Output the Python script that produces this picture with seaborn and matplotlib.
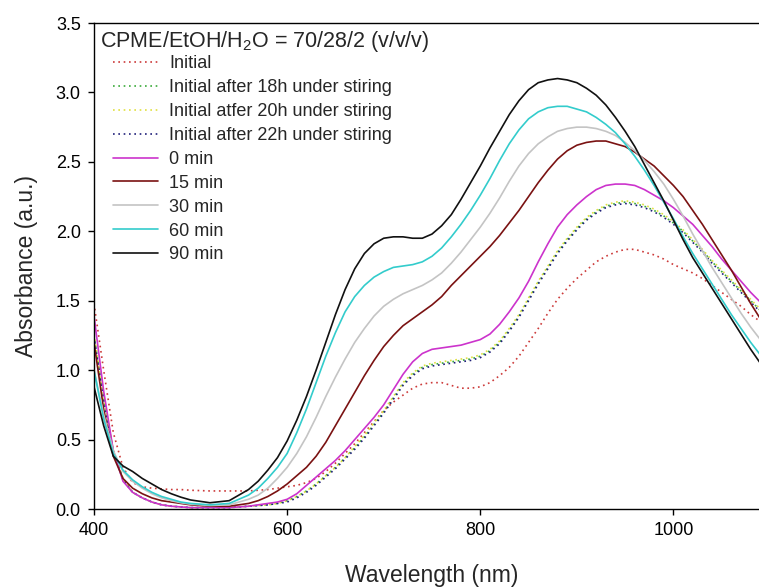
import matplotlib
matplotlib.use('Agg')
import numpy as np
import seaborn as sns
from matplotlib import pyplot as plt

# wavelength grid (nm)
wavelength = [400, 410, 420, 430, 440, 450, 460, 470, 480, 490, 500, 520, 540,
              560, 570, 580, 590, 600, 610, 620, 630, 640, 650, 660, 670, 680, 690,
              700, 710, 720, 730, 740, 750, 760, 770, 780, 790, 800, 810, 820, 830,
              840, 850, 860, 870, 880, 890, 900, 910, 920, 930, 940, 950, 960, 970,
              980, 990, 1000, 1010, 1020, 1030, 1040, 1050, 1060, 1070, 1080, 1090, 1100]

initial = [1.48, 1.00, 0.55, 0.30, 0.19, 0.16, 0.15, 0.145, 0.14, 0.14, 0.135, 0.13, 0.13,
           0.13, 0.135, 0.14, 0.15, 0.16, 0.17, 0.19, 0.22, 0.27, 0.33, 0.40, 0.47, 0.55, 0.63,
           0.71, 0.77, 0.82, 0.87, 0.90, 0.91, 0.91, 0.89, 0.87, 0.87, 0.88, 0.91, 0.96, 1.02,
           1.10, 1.20, 1.30, 1.41, 1.51, 1.59, 1.66, 1.72, 1.78, 1.82, 1.85, 1.87, 1.87, 1.85,
           1.83, 1.80, 1.76, 1.73, 1.70, 1.66, 1.61, 1.56, 1.51, 1.46, 1.40, 1.35, 1.30]
stir_18h = [1.25, 0.80, 0.42, 0.22, 0.12, 0.08, 0.05, 0.03, 0.02, 0.015, 0.01, 0.01, 0.01,
            0.02, 0.025, 0.03, 0.04, 0.06, 0.09, 0.13, 0.18, 0.24, 0.30, 0.37, 0.44, 0.52, 0.61,
            0.70, 0.80, 0.90, 0.97, 1.02, 1.04, 1.05, 1.06, 1.07, 1.08, 1.10, 1.14, 1.20, 1.29,
            1.39, 1.51, 1.63, 1.74, 1.85, 1.94, 2.02, 2.09, 2.14, 2.18, 2.20, 2.21, 2.20, 2.18,
            2.15, 2.11, 2.06, 2.00, 1.93, 1.86, 1.78, 1.71, 1.64, 1.57, 1.50, 1.43, 1.37]
stir_20h = [1.26, 0.81, 0.42, 0.22, 0.12, 0.08, 0.05, 0.03, 0.02, 0.015, 0.01, 0.01, 0.01,
            0.02, 0.025, 0.03, 0.04, 0.06, 0.09, 0.13, 0.18, 0.24, 0.30, 0.37, 0.45, 0.53, 0.62,
            0.71, 0.81, 0.91, 0.98, 1.03, 1.05, 1.06, 1.07, 1.08, 1.09, 1.11, 1.15, 1.21, 1.30,
            1.40, 1.52, 1.64, 1.75, 1.86, 1.95, 2.03, 2.10, 2.15, 2.19, 2.21, 2.22, 2.21, 2.19,
            2.16, 2.12, 2.07, 2.01, 1.94, 1.87, 1.79, 1.72, 1.65, 1.58, 1.51, 1.44, 1.38]
stir_22h = [1.24, 0.79, 0.41, 0.21, 0.12, 0.08, 0.05, 0.03, 0.02, 0.015, 0.01, 0.01, 0.01,
            0.02, 0.025, 0.03, 0.04, 0.05, 0.08, 0.12, 0.17, 0.23, 0.29, 0.36, 0.43, 0.51, 0.60,
            0.69, 0.79, 0.89, 0.96, 1.01, 1.03, 1.04, 1.05, 1.06, 1.07, 1.09, 1.13, 1.19, 1.28,
            1.38, 1.50, 1.62, 1.73, 1.84, 1.93, 2.01, 2.08, 2.13, 2.17, 2.19, 2.20, 2.19, 2.17,
            2.14, 2.10, 2.05, 1.99, 1.92, 1.85, 1.77, 1.70, 1.63, 1.56, 1.49, 1.42, 1.36]
min_0 = [1.39, 0.85, 0.42, 0.20, 0.12, 0.08, 0.05, 0.03, 0.02, 0.015, 0.01, 0.01, 0.01,
         0.02, 0.03, 0.04, 0.05, 0.07, 0.11, 0.17, 0.23, 0.29, 0.35, 0.42, 0.50, 0.58, 0.66,
         0.75, 0.86, 0.97, 1.06, 1.12, 1.15, 1.16, 1.17, 1.18, 1.20, 1.22, 1.26, 1.33, 1.42,
         1.52, 1.64, 1.78, 1.91, 2.03, 2.12, 2.19, 2.25, 2.30, 2.33, 2.34, 2.34, 2.33, 2.30,
         2.26, 2.22, 2.17, 2.11, 2.05, 1.97, 1.89, 1.80, 1.72, 1.64, 1.56, 1.49, 1.42]
min_15 = [1.20, 0.72, 0.38, 0.22, 0.15, 0.11, 0.08, 0.06, 0.05, 0.04, 0.03, 0.02, 0.02,
          0.04, 0.06, 0.09, 0.13, 0.18, 0.24, 0.30, 0.38, 0.48, 0.60, 0.72, 0.84, 0.96, 1.07,
          1.17, 1.25, 1.32, 1.37, 1.42, 1.47, 1.53, 1.61, 1.68, 1.75, 1.82, 1.89, 1.97, 2.06,
          2.15, 2.25, 2.35, 2.44, 2.52, 2.58, 2.62, 2.64, 2.65, 2.65, 2.63, 2.61, 2.57, 2.52,
          2.47, 2.40, 2.33, 2.25, 2.15, 2.05, 1.94, 1.83, 1.72, 1.60, 1.48, 1.37, 1.27]
min_30 = [1.00, 0.68, 0.42, 0.27, 0.20, 0.15, 0.11, 0.08, 0.06, 0.045, 0.035, 0.025, 0.03,
          0.07, 0.10, 0.15, 0.22, 0.30, 0.40, 0.52, 0.66, 0.81, 0.95, 1.08, 1.20, 1.30, 1.39,
          1.46, 1.51, 1.55, 1.58, 1.61, 1.65, 1.70, 1.77, 1.85, 1.94, 2.03, 2.13, 2.24, 2.36,
          2.47, 2.56, 2.63, 2.68, 2.72, 2.74, 2.75, 2.75, 2.74, 2.72, 2.69, 2.64, 2.58, 2.51,
          2.43, 2.34, 2.23, 2.11, 1.98, 1.86, 1.74, 1.63, 1.52, 1.41, 1.31, 1.22, 1.13]
min_60 = [1.00, 0.65, 0.40, 0.28, 0.21, 0.16, 0.12, 0.09, 0.07, 0.05, 0.04, 0.03, 0.04,
          0.10, 0.15, 0.22, 0.30, 0.40, 0.55, 0.72, 0.91, 1.10, 1.27, 1.42, 1.53, 1.61, 1.67,
          1.71, 1.74, 1.75, 1.76, 1.78, 1.82, 1.88, 1.96, 2.05, 2.15, 2.26, 2.38, 2.51, 2.63,
          2.73, 2.81, 2.86, 2.89, 2.90, 2.90, 2.88, 2.86, 2.82, 2.77, 2.71, 2.63, 2.54, 2.44,
          2.33, 2.21, 2.09, 1.96, 1.84, 1.73, 1.62, 1.51, 1.40, 1.30, 1.20, 1.11, 1.02]
min_90 = [0.88, 0.60, 0.38, 0.31, 0.27, 0.22, 0.18, 0.14, 0.11, 0.085, 0.065, 0.045, 0.06,
          0.14, 0.20, 0.28, 0.37, 0.49, 0.64, 0.81, 1.00, 1.20, 1.40, 1.58, 1.73, 1.84, 1.91,
          1.95, 1.96, 1.96, 1.95, 1.95, 1.98, 2.04, 2.12, 2.23, 2.35, 2.47, 2.60, 2.72, 2.84,
          2.94, 3.02, 3.07, 3.09, 3.10, 3.09, 3.07, 3.03, 2.98, 2.91, 2.82, 2.72, 2.61, 2.48,
          2.35, 2.22, 2.08, 1.94, 1.81, 1.70, 1.59, 1.48, 1.37, 1.26, 1.15, 1.05, 0.96]

labels = ['Initial', 'Initial after 18h under stiring', 'Initial atfer 20h under stiring',
          'Initial after 22h under stiring', '0 min', '15 min', '30 min', '60 min', '90 min']
series = [initial, stir_18h, stir_20h, stir_22h, min_0, min_15, min_30, min_60, min_90]
colors = ['#cc3a3a', '#3aaa3a', '#e0e040', '#20207a', '#cc33cc', '#7a1212', '#c4c4c4', '#33cccc', '#111111']
dotted = [True, True, True, True, False, False, False, False, False]

sns.set_style('ticks')
plt.rcParams['font.family'] = ['Liberation Sans', 'DejaVu Sans']
plt.rcParams['mathtext.fontset'] = 'custom'
plt.rcParams['mathtext.rm'] = 'Liberation Sans'
plt.rcParams['mathtext.it'] = 'Liberation Sans:italic'

fig = plt.figure(figsize=(7.59, 5.87), dpi=100)
ax = fig.add_axes([94 / 759, 1 - 509 / 587, 676 / 759, (509 - 23) / 587])

for lab, vals, col, dot in zip(labels, series, colors, dotted):
    sns.lineplot(x=wavelength, y=vals, ax=ax, color=col, label=lab,
                 linewidth=1.2, linestyle=(0, (1, 2.2)) if dot else '-')

ax.set_xlim(400, 1100)
ax.set_ylim(0, 3.5)
ax.set_xticks([400, 600, 800, 1000])
ax.set_yticks(np.arange(0, 3.51, 0.5))
ax.yaxis.set_major_formatter(matplotlib.ticker.FormatStrFormatter('%.1f'))
ax.tick_params(direction='out', length=4.5, width=1, pad=5, labelsize=13, colors='black')
for sp in ax.spines.values():
    sp.set_linewidth(1.0)
    sp.set_color('black')
ax.set_xlabel('Wavelength (nm)', fontsize=16.5, labelpad=18)
ax.set_ylabel('Absorbance (a.u.)', fontsize=16.5, labelpad=13)

# legend title drawn as plain text, entries indented below it
ax.text(6 / 676, (509 - 42) / 486, 'CPME/EtOH/H$_2$O = 70/28/2 (v/v/v)', transform=ax.transAxes,
        fontsize=15.5, ha='left', va='center')
leg = ax.legend(loc='upper left', bbox_to_anchor=(19 / 676, (509 - 55.5) / 486), frameon=False,
                fontsize=13, handlelength=2.5, handletextpad=0.6, labelspacing=0.38,
                borderaxespad=0, borderpad=0)

fig.savefig('out.png', dpi=100)
